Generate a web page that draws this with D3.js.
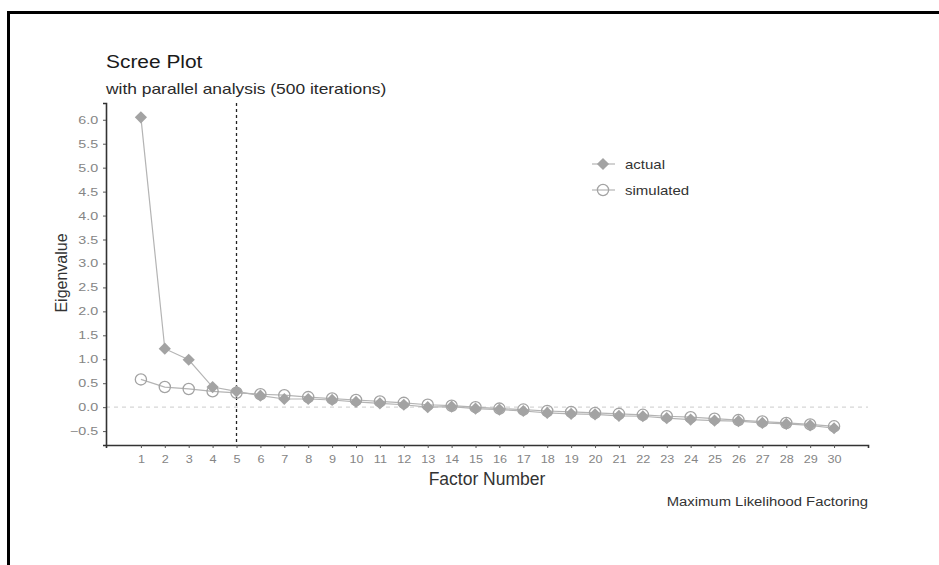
<!DOCTYPE html>
<html>
<head>
<meta charset="utf-8">
<script src="https://cdn.jsdelivr.net/npm/d3@7"></script>
<style>
  html, body { margin: 0; padding: 0; background: #fff; }
  svg { display: block; font-family: "Liberation Sans", Arial, sans-serif; }
</style>
</head>
<body>
<div id="chart"></div>
<script>
(function () {
  'use strict';

  const factors   = d3.range(1, 31);
  const actual    = [6.05, 1.22, 0.99, 0.42, 0.33, 0.24, 0.17, 0.17, 0.15, 0.11,
                     0.08, 0.05, 0.00, 0.01, -0.03, -0.05, -0.08, -0.12, -0.14, -0.15,
                     -0.18, -0.19, -0.23, -0.26, -0.28, -0.29, -0.33, -0.35, -0.38, -0.44];
  const simulated = [0.58, 0.42, 0.38, 0.33, 0.30, 0.27, 0.25, 0.21, 0.18, 0.15,
                     0.12, 0.09, 0.05, 0.03, 0.00, -0.03, -0.05, -0.08, -0.10, -0.12,
                     -0.14, -0.16, -0.19, -0.21, -0.24, -0.27, -0.30, -0.33, -0.36, -0.40];
  const yTicks    = d3.range(-0.5, 6.01, 0.5);
  const nFactors  = 5;

  const W = 939, H = 565;
  const PLOT = { left: 106, right: 868, top: 103, bottom: 445 };
  const GREY_PT = '#a3a3a3';
  const GREY_LN = '#b4b4b4';
  const TXT     = '#858585';

  const svg = d3.select('#chart').append('svg')
    .attr('width', W).attr('height', H);

  // the source picture is a little stretched sideways, so text gets a scaleX
  function label(px, py, str, size, sx, opts) {
    opts = opts || {};
    return svg.append('text')
      .attr('transform', `translate(${px},${py}) ${opts.rot ? 'rotate(-90)' : ''} scale(${sx},1)`)
      .attr('text-anchor', opts.anchor || 'start')
      .attr('font-size', size)
      .attr('fill', opts.fill || '#333')
      .text(str);
  }

  // frame (top + left)
  svg.append('path')
    .attr('d', `M8.5,${H} V12.5 H${W}`)
    .attr('fill', 'none').attr('stroke', '#000').attr('stroke-width', 3);

  const x = d3.scaleLinear().domain([-0.46, 31.42]).range([PLOT.left, PLOT.right]);
  const y = d3.scaleLinear().domain([-0.79, 6.35]).range([PLOT.bottom, PLOT.top]);

  // titles
  label(106, 68, 'Scree Plot', 19, 1.1, { fill: '#1a1a1a' });
  label(106, 94, 'with parallel analysis (500 iterations)', 15, 1.16, { fill: '#2a2a2a' });

  // zero reference line
  svg.append('line')
    .attr('x1', PLOT.left).attr('x2', PLOT.right)
    .attr('y1', y(0)).attr('y2', y(0))
    .attr('stroke', '#d6d6d6').attr('stroke-width', 1.2).attr('stroke-dasharray', '4,4');

  // cut-off line
  svg.append('line')
    .attr('x1', x(nFactors)).attr('x2', x(nFactors))
    .attr('y1', PLOT.top).attr('y2', PLOT.bottom)
    .attr('stroke', '#222').attr('stroke-width', 1.3).attr('stroke-dasharray', '3,3');

  // axes
  const yAxis = svg.append('g')
    .attr('transform', `translate(${PLOT.left},0)`)
    .call(d3.axisLeft(y).tickValues(yTicks).tickFormat(d3.format('.1f')).tickSize(3).tickPadding(3));
  const xAxis = svg.append('g')
    .attr('transform', `translate(0,${PLOT.bottom})`)
    .call(d3.axisBottom(x).tickValues(factors).tickFormat(d3.format('d')).tickSize(3).tickPadding(7));

  [yAxis, xAxis].forEach(a => {
    a.select('.domain').attr('stroke', '#333').attr('stroke-width', 1.6);
    a.selectAll('.tick line').attr('stroke', '#555');
    a.selectAll('.tick text').attr('fill', TXT)
      .attr('font-family', '"Liberation Sans", Arial, sans-serif');
  });
  yAxis.selectAll('.tick text').attr('font-size', 11).attr('transform', 'scale(1.3,1)');
  xAxis.selectAll('.tick text').attr('font-size', 11.5).attr('transform', 'scale(1.1,1)');

  label((PLOT.left + PLOT.right) / 2, 485, 'Factor Number', 17.5, 1, { anchor: 'middle' });
  label(67, 273, 'Eigenvalue', 16, 1, { anchor: 'middle', rot: true });
  label(PLOT.right, 506, 'Maximum Likelihood Factoring', 13.5, 1.1, { anchor: 'end' });

  const line = d3.line().x((d, i) => x(factors[i])).y(d => y(d));
  const diamond = d3.symbol().type(d3.symbolDiamond2).size(95);

  // simulated series
  svg.append('path').datum(simulated)
    .attr('d', line).attr('fill', 'none').attr('stroke', GREY_LN).attr('stroke-width', 1.2);
  svg.append('g').selectAll('circle')
    .data(simulated).join('circle')
    .attr('cx', (d, i) => x(factors[i])).attr('cy', d => y(d)).attr('r', 5.6)
    .attr('fill', 'none').attr('stroke', GREY_PT).attr('stroke-width', 1.3);

  // actual series
  svg.append('path').datum(actual)
    .attr('d', line).attr('fill', 'none').attr('stroke', GREY_LN).attr('stroke-width', 1.2);
  svg.append('g').selectAll('path')
    .data(actual).join('path')
    .attr('transform', (d, i) => `translate(${x(factors[i])},${y(d)})`)
    .attr('d', diamond).attr('fill', GREY_PT);

  // legend
  const lg = svg.append('g').attr('transform', 'translate(603,164)');
  lg.append('line').attr('x1', -11).attr('x2', 12).attr('stroke', GREY_LN).attr('stroke-width', 1.2);
  lg.append('path').attr('d', diamond).attr('fill', GREY_PT);
  const lg2 = svg.append('g').attr('transform', 'translate(603,190)');
  lg2.append('line').attr('x1', -11).attr('x2', 12).attr('stroke', GREY_LN).attr('stroke-width', 1.2);
  lg2.append('circle').attr('r', 5.6).attr('fill', 'none').attr('stroke', GREY_PT).attr('stroke-width', 1.3);
  label(625, 169, 'actual', 12.5, 1.2);
  label(625, 195, 'simulated', 12.5, 1.2);
})();
</script>
</body>
</html>
